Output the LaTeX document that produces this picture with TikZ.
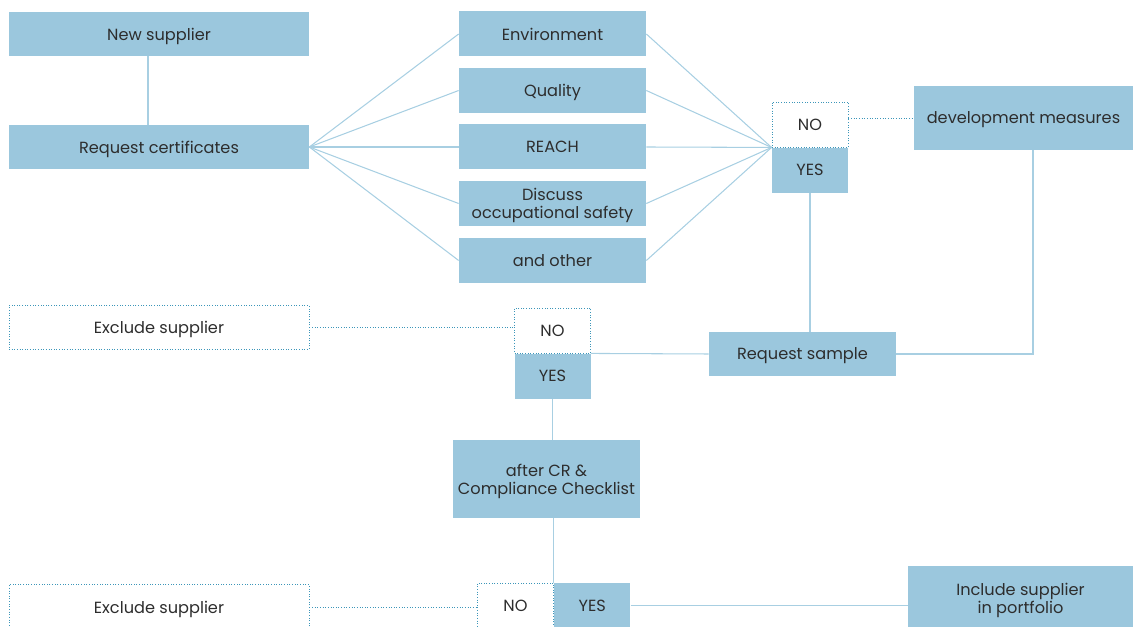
\documentclass[tikz,border=0pt]{standalone}
\usepackage{fontspec}
\setmainfont{Poppins}
\usepackage{xcolor}
\usepackage{tikz}
\usetikzlibrary{positioning, calc}
\definecolor{FlowBlue}{RGB}{155, 199, 221}
\definecolor{FlowLine}{RGB}{168, 207, 226}
\definecolor{FlowDots}{RGB}{60, 150, 185}
\definecolor{FlowText}{RGB}{45, 45, 45}

\tikzset{
  stepbox/.style={fill=FlowBlue, text=FlowText, align=center, inner sep=0pt,
    text depth=0pt, font=\fontsize{9.2}{10.3}\selectfont},
  widebox/.style={stepbox, minimum width=6cm, minimum height=0.88cm},
  midbox/.style={stepbox, minimum width=3.74cm, minimum height=0.9cm},
  yesbox/.style={stepbox, minimum width=1.52cm, minimum height=0.9cm},
  nobox/.style={yesbox, fill=white, draw=FlowDots, densely dotted, line width=0.5pt},
  outbox/.style={widebox, fill=white, draw=FlowDots, densely dotted, line width=0.5pt},
  link/.style={draw=FlowLine, line width=0.6pt},
  dotlink/.style={draw=FlowDots, densely dotted, line width=0.5pt}
}

\begin{document}
\begin{tikzpicture}
    \path[use as bounding box] (0,0) rectangle (22.68,-12.54);

    % left column
    \node[widebox] (newsup) at (3.18,-0.68) {New supplier};
    \node[widebox] (reqcert) at (3.18,-2.94) {Request certificates};
    \node[outbox] (excl1) at (3.18,-6.55) {Exclude supplier};
    \node[outbox, minimum height=0.9cm] (excl2) at (3.18,-12.14) {Exclude supplier};

    % certificate topics
    \node[midbox] (env) at (11.05,-0.68) {Environment};
    \node[midbox] (qual) at (11.05,-1.81) {Quality};
    \node[midbox] (reach) at (11.05,-2.94) {REACH};
    \node[midbox] (safety) at (11.05,-4.07) {Discuss\\occupational safety};
    \node[midbox] (other) at (11.05,-5.21) {and other};

    % first decision
    \node[nobox] (no1) at (16.2,-2.49) {NO};
    \node[yesbox, below=0pt of no1] (yes1) {YES};
    \node[stepbox, minimum width=4.38cm, minimum height=1.28cm] (devmeas) at (20.47,-2.36) {development measures};

    % sample
    \node[midbox, minimum height=0.88cm] (sample) at (16.05,-7.08) {Request sample};
    \node[nobox] (no2) at (11.05,-6.61) {NO};
    \node[yesbox, below=0pt of no2] (yes2) {YES};

    % checklist
    \node[midbox, minimum height=1.56cm] (check) at (10.93,-9.58) {after CR \&\\Compliance Checklist};
    \node[nobox] (no3) at (10.31,-12.11) {NO};
    \node[yesbox, right=0pt of no3] (yes3) {YES};
    \node[stepbox, minimum width=4.5cm, minimum height=1.28cm] (incl) at (20.41,-11.96) {Include supplier\\in portfolio};

    % connectors
    \draw[link] ([xshift=-0.22cm]newsup.south) -- ([xshift=-0.22cm]reqcert.north);
    \foreach \t in {env, qual, reach, safety, other} {
      \draw[link] (reqcert.east) -- (\t.west);
      \draw[link] (\t.east) -- (no1.south west);
    }
    \draw[dotlink] (no1.east |- devmeas.west) -- (devmeas.west);
    \draw[link] (yes1.south) -- (yes1.south |- sample.north);
    \draw[link] ([xshift=0.19cm]devmeas.south) |- (sample.east);
    \draw[link] (sample.west) -- (no2.south east);
    \draw[dotlink] (excl1.east) -- (excl1.east -| no2.west);
    \draw[link] (yes2.south) -- (yes2.south |- check.north);
    \draw[link] (yes3.north west |- check.south) -- (yes3.north west);
    \draw[dotlink] (excl2.east) -- (excl2.east -| no3.west);
    \draw[link] (yes3.east) -- (yes3.east -| incl.west);
  \end{tikzpicture}
\end{document}
